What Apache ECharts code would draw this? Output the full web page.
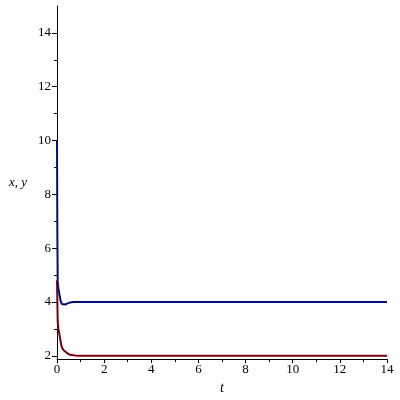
<!DOCTYPE html>
<html><head><meta charset="utf-8">
<script src="https://cdn.jsdelivr.net/npm/echarts@6/dist/echarts.min.js"></script>
<style>html,body{margin:0;padding:0;background:#fff}#c{width:400px;height:400px}</style>
</head><body><div id="c"></div>
<script>
const xTicks = [0, 2, 4, 6, 8, 10, 12, 14];
const yTicks = [2, 4, 6, 8, 10, 12, 14];
const yMinorTicks = [3, 5, 7, 9, 11, 13];
const tRed = [0, 0.03, 0.06, 0.1, 0.15, 0.2, 0.27, 0.34, 0.45, 0.55, 0.7, 0.9, 14];
const xRed = [4.8, 3.26, 3.0, 2.81, 2.55, 2.33, 2.22, 2.16, 2.09, 2.04, 2.02, 2.0, 2.0];
const tBlue = [0, 0.015, 0.03, 0.06, 0.1, 0.15, 0.2, 0.27, 0.35, 0.45, 0.55, 0.7, 14];
const yBlue = [10, 6.5, 4.75, 4.5, 4.3, 4.05, 3.93, 3.9, 3.91, 3.95, 3.98, 4.0, 4.0];

const pairs = (a, b) => a.map((v, i) => [v, b[i]]);
const font = 'Liberation Serif';
const chart = echarts.init(document.getElementById('c'), null, {renderer: 'canvas'});
chart.setOption({
  animation: false,
  backgroundColor: '#fff',
  grid: {left: 57, right: 13, top: 6, bottom: 39, containLabel: false},
  xAxis: {
    type: 'value', min: 0, max: 14, interval: 2,
    name: 't', nameLocation: 'middle', nameGap: 19,
    nameTextStyle: {fontFamily: font, fontStyle: 'italic', fontSize: 14, color: '#000'},
    axisLine: {show: true, onZero: false, lineStyle: {color: '#000', width: 1}},
    axisTick: {show: true, inside: false, length: 4, lineStyle: {color: '#000'}},
    minorTick: {show: true, splitNumber: 2, length: 3, lineStyle: {color: '#000'}},
    axisLabel: {fontFamily: font, fontSize: 13, color: '#000', margin: 4},
    splitLine: {show: false}
  },
  yAxis: [{
    type: 'value', min: 1.88, max: 15,
    name: 'x, y', nameLocation: 'middle', nameRotate: 0, nameGap: 30,
    nameTextStyle: {fontFamily: font, fontStyle: 'italic', fontSize: 13, color: '#000', align: 'right'},
    axisLine: {show: true, onZero: false, lineStyle: {color: '#000', width: 1}},
    axisTick: {show: true, inside: false, length: 5, customValues: yTicks, lineStyle: {color: '#000'}},
    axisLabel: {fontFamily: font, fontSize: 13, color: '#000', margin: 6, customValues: yTicks},
    splitLine: {show: false}
  }, {
    type: 'value', min: 1.88, max: 15, position: 'left',
    axisLine: {show: false},
    axisTick: {show: true, inside: false, length: 3, customValues: yMinorTicks, lineStyle: {color: '#000'}},
    axisLabel: {show: false},
    splitLine: {show: false}
  }],
  series: [
    {type: 'line', yAxisIndex: 0, data: pairs(tRed, xRed), showSymbol: false, symbol: 'none',
     lineStyle: {color: '#78000E', width: 2}, itemStyle: {color: '#78000E'}},
    {type: 'line', yAxisIndex: 0, data: pairs(tBlue, yBlue), showSymbol: false, symbol: 'none',
     lineStyle: {color: '#000E78', width: 2}, itemStyle: {color: '#000E78'}}
  ]
});
</script></body></html>
